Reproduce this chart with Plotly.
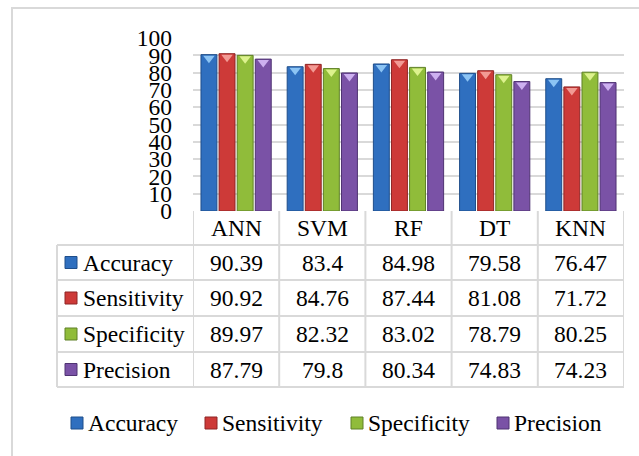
import plotly.graph_objects as go

categories = ["ANN", "SVM", "RF", "DT", "KNN"]
series_names = ["Accuracy", "Sensitivity", "Specificity", "Precision"]
accuracy = [90.39, 83.4, 84.98, 79.58, 76.47]
sensitivity = [90.92, 84.76, 87.44, 81.08, 71.72]
specificity = [89.97, 82.32, 83.02, 78.79, 80.25]
precision = [87.79, 79.8, 80.34, 74.83, 74.23]
y_ticks = [0, 10, 20, 30, 40, 50, 60, 70, 80, 90, 100]

series_values = [accuracy, sensitivity, specificity, precision]
colors = ["#2F6FBF", "#CD3A38", "#90BC3A", "#7A52A6"]
edge_colors = ["#1F4E8A", "#8E2524", "#5F8026", "#4F3372"]
tip_colors = ["#8CC4F4", "#F29A94", "#DDF28E", "#CDB0F0"]

FONT = "Liberation Serif, Times New Roman, serif"
FS = 23.5
W, H = 639, 456
L, R, T, B = 193, 15, 38, 245
PW, PH = W - L - R, H - T - B
GAP = 0.16


def px_x(p):
    return (p - L) / PW


def px_y(p):
    return (H - B - p) / PH


fig = go.Figure()
for name, vals, c, ec in zip(series_names, series_values, colors, edge_colors):
    fig.add_trace(go.Bar(
        x=categories, y=vals, name=name,
        marker=dict(color=c, line=dict(color=ec, width=1)),
        cliponaxis=False, showlegend=False, hoverinfo="x+y+name",
    ))
# light bevel tips at the top of each bar
for name, vals, tc in zip(series_names, series_values, tip_colors):
    fig.add_trace(go.Scatter(
        x=categories, y=vals, name=name, mode="markers",
        marker=dict(symbol="triangle-down", angle=0, standoff=3.5, size=10,
                    color=tc, line=dict(width=0)),
        showlegend=False, hoverinfo="skip", cliponaxis=False,
    ))

shapes = []
annotations = []
grid_col = "#D9D9D9"

# outer chart border
shapes.append(dict(type="rect", xref="paper", yref="paper",
                   x0=px_x(12), x1=px_x(660), y0=px_y(8), y1=px_y(480),
                   line=dict(color=grid_col, width=2), layer="below"))

# table geometry (pixel rows)
row_edges = [211, 245, 280, 316, 352, 387]
label_left = 57
n = len(categories)
for i in range(n + 1):
    shapes.append(dict(type="line", xref="x", yref="paper",
                       x0=i - 0.5, x1=i - 0.5, y0=px_y(row_edges[0]), y1=px_y(row_edges[-1]),
                       line=dict(color=grid_col, width=2)))
shapes.append(dict(type="line", xref="paper", yref="paper",
                   x0=px_x(label_left), x1=px_x(label_left),
                   y0=px_y(row_edges[1]), y1=px_y(row_edges[-1]),
                   line=dict(color=grid_col, width=2)))
for r in row_edges[1:]:
    shapes.append(dict(type="line", xref="paper", yref="paper",
                       x0=px_x(label_left), x1=1, y0=px_y(r), y1=px_y(r),
                       line=dict(color=grid_col, width=2)))

for cat in categories:
    annotations.append(dict(x=cat, y=px_y((row_edges[0] + row_edges[1]) / 2),
                            xref="x", yref="paper", text=cat, showarrow=False,
                            font=dict(family=FONT, size=FS, color="#000"),
                            xanchor="center", yanchor="middle"))

for k, (name, vals, c, ec) in enumerate(zip(series_names, series_values, colors, edge_colors)):
    yc = (row_edges[k + 1] + row_edges[k + 2]) / 2
    shapes.append(dict(type="rect", xref="paper", yref="paper",
                       x0=px_x(65), x1=px_x(77), y0=px_y(yc - 6), y1=px_y(yc + 6),
                       fillcolor=c, line=dict(color=ec, width=1)))
    annotations.append(dict(x=px_x(81), y=px_y(yc), xref="paper", yref="paper",
                            text=name, showarrow=False, xanchor="left", yanchor="middle",
                            font=dict(family=FONT, size=FS, color="#000")))
    for cat, v in zip(categories, vals):
        annotations.append(dict(x=cat, y=px_y(yc), xref="x", yref="paper",
                                text=f"{v:g}", showarrow=False,
                                xanchor="center", yanchor="middle",
                                font=dict(family=FONT, size=FS, color="#000")))

# bottom legend
legend_marker_x = [71, 205, 351, 497]
legend_y = 423
for name, c, ec, mx in zip(series_names, colors, edge_colors, legend_marker_x):
    shapes.append(dict(type="rect", xref="paper", yref="paper",
                       x0=px_x(mx), x1=px_x(mx + 12), y0=px_y(legend_y - 6), y1=px_y(legend_y + 6),
                       fillcolor=c, line=dict(color=ec, width=1)))
    annotations.append(dict(x=px_x(mx + 15), y=px_y(legend_y), xref="paper", yref="paper",
                            text=name, showarrow=False, xanchor="left", yanchor="middle",
                            font=dict(family=FONT, size=FS, color="#000")))

fig.update_layout(
    width=W, height=H,
    margin=dict(l=L, r=R, t=T, b=B, pad=0),
    paper_bgcolor="white", plot_bgcolor="white",
    barmode="group", bargap=GAP, bargroupgap=0.12,
    scattermode="group", scattergap=GAP,
    showlegend=False,
    font=dict(family=FONT, size=FS, color="#000"),
    shapes=shapes, annotations=annotations,
    xaxis=dict(type="category", showticklabels=False, showgrid=False, zeroline=False,
               showline=False, ticks="", range=[-0.5, n - 0.5], fixedrange=True),
    yaxis=dict(range=[0, 100], tickvals=y_ticks, ticktext=[str(t) for t in y_ticks],
               showgrid=True, gridcolor=grid_col, gridwidth=2, zeroline=False,
               showline=False, ticks="", ticklabelstandoff=20,
               tickfont=dict(family=FONT, size=FS, color="#000"), fixedrange=True),
)

fig.write_html("out.html")
